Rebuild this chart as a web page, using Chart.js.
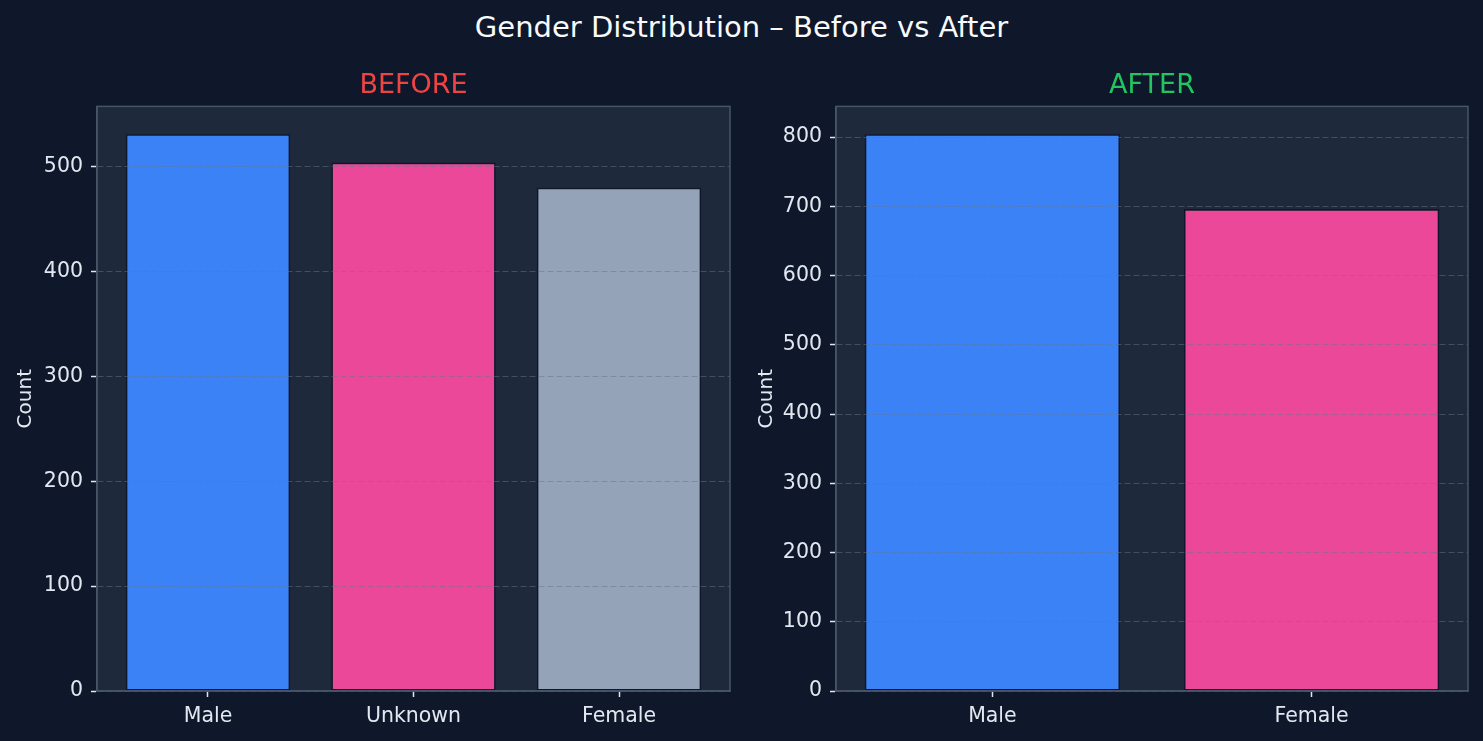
<!DOCTYPE html>
<html>
<head>
<meta charset="utf-8">
<script src="https://cdn.jsdelivr.net/npm/chart.js@4/dist/chart.umd.min.js"></script>
<style>
  html, body { margin: 0; padding: 0; background: #0f172a; }
  body { width: 1483px; height: 741px; position: relative; overflow: hidden; }
  #title {
    position: absolute; left: 0; top: 9px; width: 1483px; text-align: center;
    font-family: "DejaVu Sans", sans-serif; font-size: 29px; color: #f8fafc; line-height: 36px;
  }
  .box { position: absolute; top: 0; height: 741px; }
</style>
</head>
<body>
<div id="title">Gender Distribution – Before vs After</div>
<div class="box" style="left:0;width:741px"><canvas id="before"></canvas></div>
<div class="box" style="left:741px;width:742px"><canvas id="after"></canvas></div>
<script>
const beforeLabels = ["Male", "Unknown", "Female"];
const beforeCounts = [531, 504, 480];
const beforeColors = ["#3b82f6", "#ec4899", "#94a3b8"];

const afterLabels = ["Male", "Female"];
const afterCounts = [804, 696];
const afterColors = ["#3b82f6", "#ec4899"];

const textColor = "#e2e8f0";
const edgeColor = "#475569";
const fontFamily = "'DejaVu Sans', sans-serif";

// fill and frame of the plot area
const panel = {
    id: "panel",
    beforeDraw(chart) {
        const a = chart.chartArea;
        const ctx = chart.ctx;
        ctx.save();
        ctx.fillStyle = "#1e293b";
        ctx.fillRect(a.left, a.top, a.right - a.left, a.bottom - a.top);
        ctx.restore();
    },
    afterDraw(chart) {
        const a = chart.chartArea;
        const ctx = chart.ctx;
        ctx.save();
        ctx.strokeStyle = edgeColor;
        ctx.lineWidth = 1.5;
        ctx.strokeRect(a.left, a.top, a.right - a.left, a.bottom - a.top);
        ctx.restore();
    }
};

function makeChart(id, labels, counts, colors, title, titleColor, yWidth, rightPad) {
    const margin = (labels.length - 1 + 0.8) * 0.05;
    return new Chart(document.getElementById(id), {
        type: "bar",
        data: {
            datasets: [{
                data: counts.map((c, i) => ({ x: i, y: c })),
                backgroundColor: colors,
                borderColor: "#0f172a",
                borderWidth: 1.6,
                borderSkipped: false,
                categoryPercentage: 1,
                barPercentage: 0.8
            }]
        },
        options: {
            responsive: true,
            maintainAspectRatio: false,
            animation: false,
            layout: { padding: { left: 0, right: rightPad, top: 0, bottom: 0 } },
            plugins: {
                legend: { display: false },
                tooltip: { enabled: false },
                title: {
                    display: true,
                    text: title,
                    color: titleColor,
                    fullSize: false,
                    font: { family: fontFamily, size: 27, weight: "normal" },
                    padding: { top: 70, bottom: 4 }
                }
            },
            scales: {
                x: {
                    type: "linear",
                    offset: false,
                    min: -0.4 - margin,
                    max: labels.length - 0.6 + margin,
                    afterBuildTicks: (s) => { s.ticks = labels.map((l, i) => ({ value: i })); },
                    afterFit: (s) => { s.height = 50; },
                    grid: { offset: false, drawOnChartArea: false, drawTicks: true, tickLength: 6, tickColor: textColor, tickWidth: 1.5, z: 1 },
                    border: { display: true, color: edgeColor, width: 1.5, z: 1 },
                    ticks: {
                        color: textColor,
                        padding: 7,
                        font: { family: fontFamily, size: 20.5 },
                        callback: (v) => labels[v]
                    }
                },
                y: {
                    min: 0,
                    max: Math.max(...counts) * 1.05,
                    afterBuildTicks: (s) => { s.ticks = s.ticks.filter(t => t.value % 100 === 0); },
                    afterFit: (s) => { s.width = yWidth; },
                    grid: {
                        color: "rgba(100, 116, 139, 0.5)",
                        lineWidth: 1,
                        tickLength: 6,
                        tickColor: textColor,
                        tickWidth: 1.5,
                        tickBorderDash: [],
                        z: 1
                    },
                    border: { display: true, color: edgeColor, width: 1.5, dash: [6, 3], z: 1 },
                    ticks: {
                        color: textColor,
                        stepSize: 100,
                        padding: 8,
                        font: { family: fontFamily, size: 20.5 }
                    },
                    title: {
                        display: true,
                        text: "Count",
                        color: textColor,
                        font: { family: fontFamily, size: 20 },
                        padding: { top: 14, bottom: 0 }
                    }
                }
            }
        },
        plugins: [panel]
    });
}

makeChart("before", beforeLabels, beforeCounts, beforeColors, "BEFORE", "#ef4444", 97, 11);
makeChart("after", afterLabels, afterCounts, afterColors, "AFTER", "#22c55e", 95, 15);
</script>
</body>
</html>
